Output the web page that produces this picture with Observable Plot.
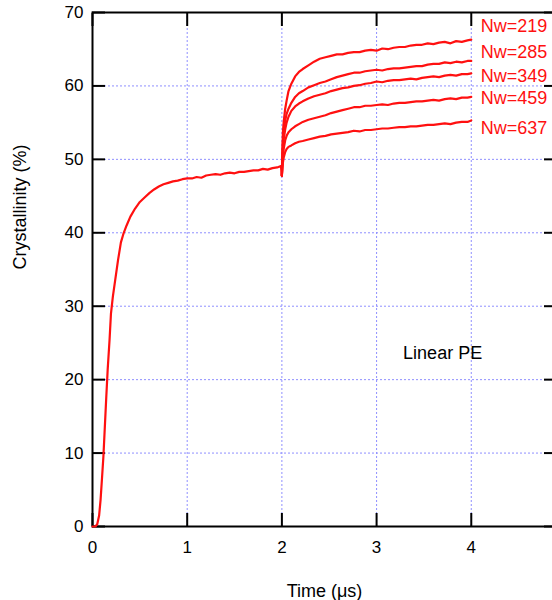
<!DOCTYPE html>
<html>
<head>
<meta charset="utf-8">
<script src="https://cdn.jsdelivr.net/npm/d3@7"></script>
<script src="https://cdn.jsdelivr.net/npm/@observablehq/plot@0.6"></script>
<style>
  html, body { margin: 0; padding: 0; background: #fff; overflow: hidden; }
  #chart { width: 552px; height: 600px; overflow: hidden; }
  #chart svg { max-width: none !important; width: 560px !important; height: 600px !important; }
</style>
</head>
<body>
<div id="chart"></div>
<script>
// Isothermal crystallization of linear PE: one run up to 2 µs, then five
// continuations at different weight-average chain lengths (Nw).

// First stage (0 – 2 µs)
const stageTime = [0, 0.03, 0.05, 0.07, 0.085, 0.1, 0.115, 0.13, 0.145, 0.16, 0.18, 0.195,
  0.215, 0.24, 0.27, 0.3, 0.33, 0.36, 0.4, 0.45, 0.5, 0.55, 0.6, 0.65, 0.7, 0.75, 0.8,
  0.85, 0.9, 0.95, 1.0, 1.05, 1.1, 1.15, 1.2, 1.25, 1.3, 1.35, 1.4, 1.45, 1.5, 1.55, 1.6,
  1.65, 1.7, 1.75, 1.8, 1.85, 1.9, 1.95, 1.99, 2.0];
const stageCryst = [0, 0, 0.3, 1.5, 3.6, 6.5, 9.5, 13.5, 17.5, 21.3, 25.4, 29.0,
  31.3, 33.6, 36.3, 38.7, 40.0, 41.0, 42.2, 43.3, 44.2, 44.8, 45.4, 45.9, 46.3, 46.6, 46.8,
  47.0, 47.1, 47.3, 47.4, 47.4, 47.6, 47.5, 47.8, 47.9, 48.0, 47.9, 48.1, 48.2, 48.1, 48.3, 48.3,
  48.4, 48.5, 48.5, 48.7, 48.6, 48.8, 48.9, 49.1, 47.7];

// Second stage (2 – 4 µs), shared time grid
const contTime = [2.0, 2.005, 2.01, 2.02, 2.035, 2.05, 2.07, 2.1, 2.14, 2.18, 2.22, 2.28,
  2.34, 2.4, 2.46, 2.52, 2.58, 2.64, 2.7, 2.76, 2.82, 2.88, 2.94, 3.0, 3.06, 3.12, 3.18,
  3.24, 3.3, 3.36, 3.42, 3.48, 3.54, 3.6, 3.66, 3.72, 3.78, 3.84, 3.9, 3.96, 4.0];

const seriesNames = ["Nw=219", "Nw=285", "Nw=349", "Nw=459", "Nw=637"];

const cryst219 = [47.8, 51.0, 53.6, 55.2, 56.9, 58.0, 59.3, 60.3, 61.3, 61.9, 62.3, 62.8,
  63.3, 63.7, 63.9, 64.1, 64.3, 64.3, 64.5, 64.6, 64.6, 64.8, 64.9, 64.8, 65.1, 65.0, 65.2,
  65.3, 65.3, 65.5, 65.6, 65.6, 65.8, 65.7, 65.9, 66.0, 65.8, 66.1, 66.0, 66.2, 66.3];
const cryst285 = [47.8, 50.3, 52.2, 53.8, 55.3, 56.2, 56.9, 57.7, 58.5, 59.0, 59.3, 59.8,
  60.1, 60.4, 60.6, 60.9, 61.2, 61.4, 61.6, 61.8, 61.8, 62.0, 62.1, 62.2, 62.1, 62.3, 62.4,
  62.4, 62.5, 62.6, 62.7, 62.7, 62.9, 63.0, 63.0, 63.2, 63.1, 63.3, 63.2, 63.4, 63.4];
const cryst349 = [47.8, 49.8, 51.3, 52.8, 54.1, 55.0, 55.8, 56.6, 57.2, 57.6, 57.9, 58.3,
  58.6, 58.8, 59.0, 59.3, 59.5, 59.7, 59.8, 60.0, 60.1, 60.3, 60.4, 60.6, 60.5, 60.7, 60.8,
  60.8, 60.9, 61.0, 60.9, 61.1, 61.2, 61.3, 61.2, 61.4, 61.5, 61.4, 61.6, 61.6, 61.7];
const cryst459 = [47.8, 49.2, 50.3, 51.5, 52.6, 53.2, 53.7, 54.1, 54.5, 54.8, 55.1, 55.4,
  55.6, 55.8, 56.0, 56.3, 56.5, 56.7, 56.9, 57.1, 57.1, 57.3, 57.3, 57.4, 57.5, 57.4, 57.6,
  57.7, 57.7, 57.8, 57.9, 57.9, 58.0, 58.1, 58.0, 58.2, 58.3, 58.2, 58.4, 58.4, 58.5];
const cryst637 = [47.8, 48.8, 49.5, 50.3, 51.0, 51.4, 51.7, 51.9, 52.2, 52.4, 52.5, 52.7,
  52.9, 53.1, 53.2, 53.4, 53.5, 53.6, 53.7, 53.9, 53.8, 54.0, 54.0, 54.1, 54.2, 54.2, 54.3,
  54.4, 54.4, 54.5, 54.5, 54.6, 54.7, 54.7, 54.8, 54.9, 54.8, 55.0, 55.1, 55.1, 55.3];

const xTicks = [0, 1, 2, 3, 4];
const yTicks = [0, 10, 20, 30, 40, 50, 60, 70];
const xGrid = [1, 2, 3, 4];
const yGrid = [10, 20, 30, 40, 50, 60];

// ---- tables built from the arrays above
const stage = stageTime.map((t, i) => ({t, c: stageCryst[i]}));
const contValues = [cryst219, cryst285, cryst349, cryst459, cryst637];
const cont = seriesNames.flatMap((name, k) =>
  contTime.map((t, i) => ({name, t, c: contValues[k][i]})));

// label placement to the right of the curve ends
const labelY = [68.1, 64.6, 61.3, 58.3, 54.3];
const labels = seriesNames.map((name, k) => ({name, t: 4.1, c: labelY[k]}));

const red = "#ff1010";
const gridColor = "#8f8fff";
const TICK = 13;

const chart = Plot.plot({
  width: 560,
  height: 600,
  marginLeft: 92,
  marginRight: 4,
  marginTop: 12,
  marginBottom: 74,
  style: {fontFamily: "'Liberation Sans', Arial, sans-serif", background: "#fff"},
  x: {domain: [0, 4.9], axis: null},
  y: {domain: [0, 70], axis: null},
  marks: [
    Plot.gridX(xGrid, {stroke: gridColor, strokeOpacity: 1, strokeWidth: 1, strokeDasharray: "2,2"}),
    Plot.gridY(yGrid, {stroke: gridColor, strokeOpacity: 1, strokeWidth: 1, strokeDasharray: "2,2"}),

    // inward ticks on all four sides (outward ticks shifted back inside the frame)
    Plot.axisX(xTicks, {anchor: "bottom", tickSize: TICK, dy: -TICK, tickFormat: () => "", stroke: "#000", strokeWidth: 2, label: null}),
    Plot.axisX(xTicks, {anchor: "top", tickSize: TICK, dy: TICK, tickFormat: () => "", stroke: "#000", strokeWidth: 2, label: null}),
    Plot.axisY(yTicks, {anchor: "left", tickSize: TICK, dx: TICK, tickFormat: () => "", stroke: "#000", strokeWidth: 2, label: null}),
    Plot.axisY(yTicks, {anchor: "right", tickSize: TICK, dx: -TICK, tickFormat: () => "", stroke: "#000", strokeWidth: 2, label: null}),

    // tick labels
    Plot.axisX(xTicks, {anchor: "bottom", tickSize: 0, tickPadding: 14, fontSize: 17, fill: "#000", label: null}),
    Plot.axisY(yTicks, {anchor: "left", tickSize: 0, tickPadding: 9, fontSize: 17, fill: "#000", label: null}),

    Plot.frame({stroke: "#000", strokeWidth: 2}),

    // curves
    Plot.line(stage, {x: "t", y: "c", stroke: red, strokeWidth: 2.2}),
    Plot.line(cont, {x: "t", y: "c", z: "name", stroke: red, strokeWidth: 2.2}),

    // annotations
    Plot.text(labels, {x: "t", y: "c", text: "name", fill: red, fontSize: 18, textAnchor: "start"}),
    Plot.text(["Linear PE"], {x: 3.28, y: 23.6, fill: "#000", fontSize: 18, textAnchor: "start"}),

    // axis titles
    Plot.text(["Time (μs)"], {frameAnchor: "bottom", dy: 70, fontSize: 18, fill: "#000"}),
    Plot.text(["Crystallinity (%)"], {frameAnchor: "left", dx: -72, rotate: -90, fontSize: 18, fill: "#000"})
  ]
});

document.getElementById("chart").appendChild(chart);
</script>
</body>
</html>
